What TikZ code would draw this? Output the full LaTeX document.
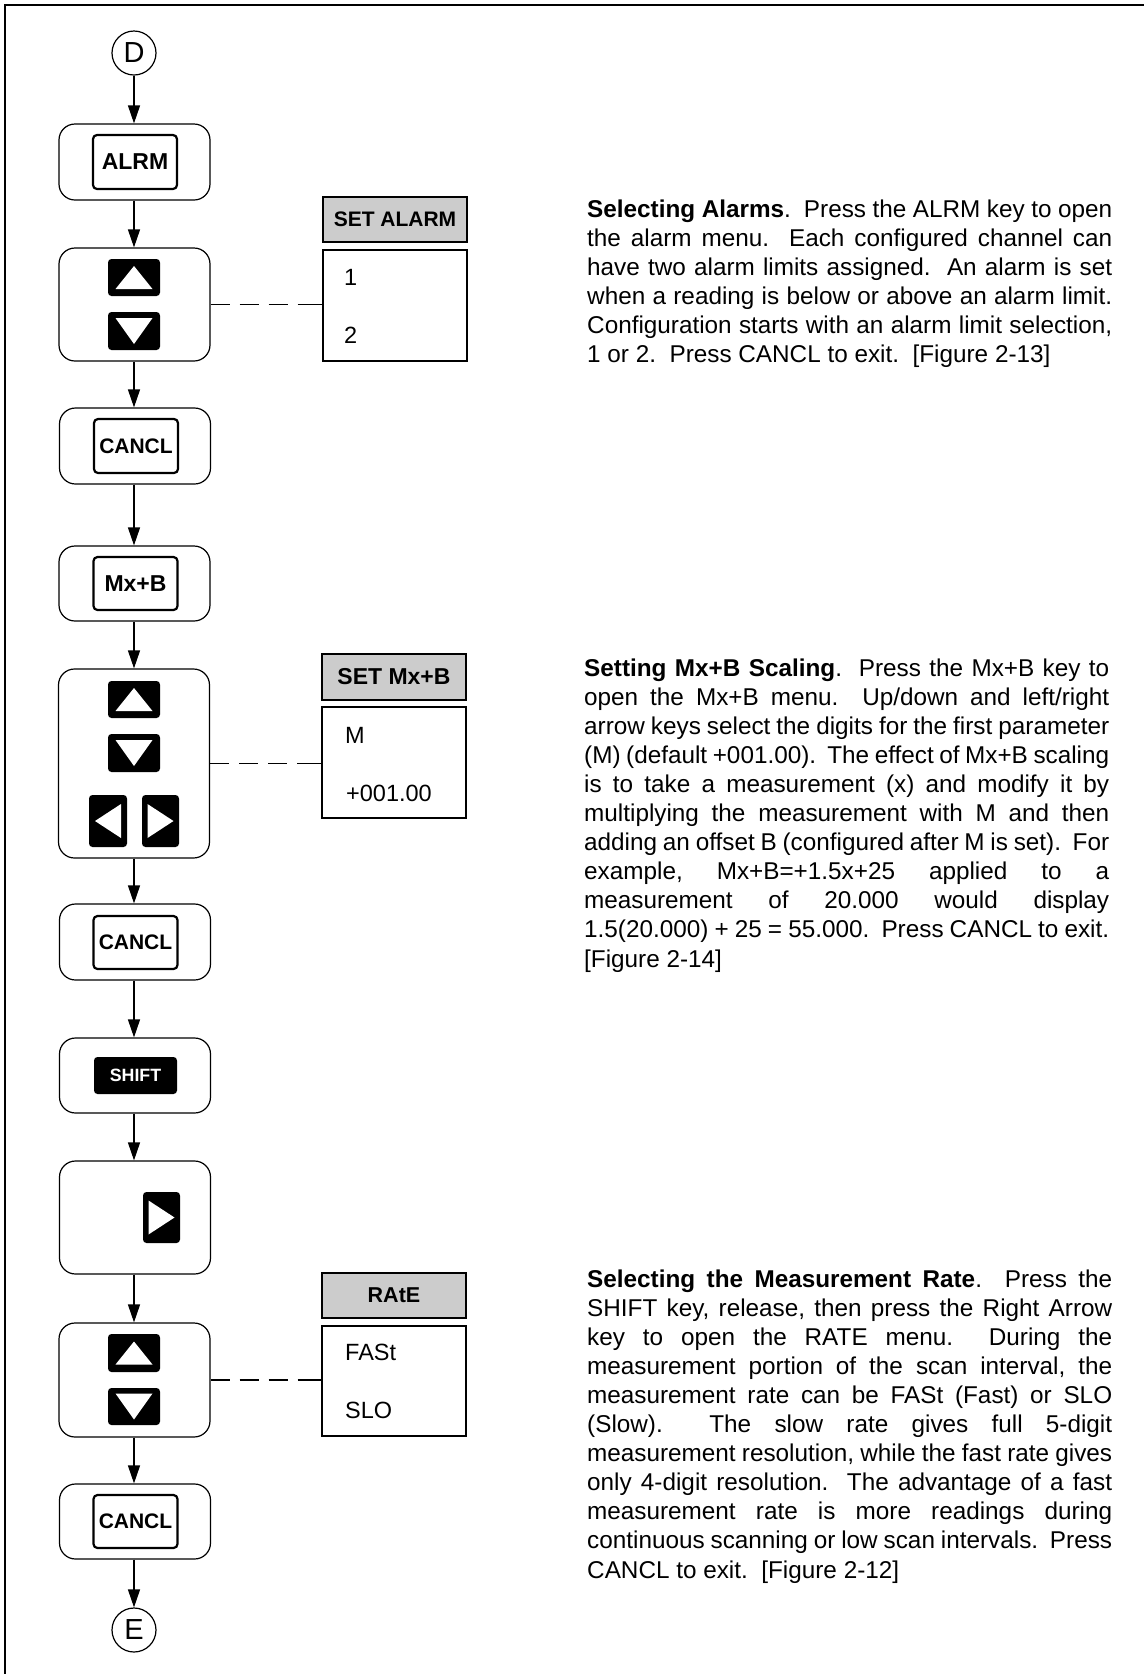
\documentclass[tikz,border=0pt]{standalone}
\usepackage{fontspec}
\setmainfont{Liberation Sans}
\usetikzlibrary{arrows.meta}
\definecolor{hdrgray}{gray}{0.8}
\newlength\pw
\setlength\pw{525pt}
\newcommand\pjust[1]{\hbox to \pw{#1}}
\newcommand\plast[1]{\hbox{#1}}
\newcommand\parfont{\fontsize{24.3}{29.1}\selectfont\frenchspacing\hbadness=10000\hfuzz=20pt\lineskiplimit=-100pt}
\newcommand\triup[1]{\fill[white] (#1.center) ++(0,-11.5) -- ++(18.5,23) -- ++(-37,0) -- cycle;}
\newcommand\tridown[1]{\fill[white] (#1.center) ++(0,13) -- ++(18.5,-26) -- ++(-37,0) -- cycle;}
\newcommand\trileft[1]{\fill[white] (#1.center) ++(-13,0) -- ++(26,-17) -- ++(0,34) -- cycle;}
\newcommand\triright[1]{\fill[white] (#1.center) ++(13,0) -- ++(-26,-17) -- ++(0,34) -- cycle;}
\tikzset{
  obox/.style={draw, line width=1.2pt, rounded corners=16pt, minimum width=151pt, inner sep=0pt},
  kbox/.style={draw, line width=2.2pt, rounded corners=4pt, minimum width=84pt, minimum height=54pt, inner sep=0pt, font=\bfseries\fontsize{22}{26}\selectfont},
  bkey/.style={fill=black, rounded corners=3.5pt, inner sep=0pt},
  conn/.style={line width=1.2pt, -{Triangle[length=18pt,width=12pt]}},
  dashl/.style={line width=1.2pt, dash pattern=on 19pt off 10pt on 19pt off 10pt on 19pt off 10pt on 40pt},
  circnode/.style={circle, draw, line width=1.2pt, minimum size=44pt, inner sep=0pt, font=\fontsize{29}{32}\selectfont},
  hdr/.style={draw, line width=1.2pt, fill=hdrgray, minimum width=144pt, minimum height=45pt, inner sep=0pt},
  menubox/.style={draw, line width=1.2pt, minimum width=144pt, inner sep=0pt},
  mitem/.style={anchor=west, inner sep=0pt, font=\fontsize{23.5}{28}\selectfont},
  para/.style={anchor=base west, inner sep=0pt},
}
\begin{document}
\begin{tikzpicture}[x=1pt,y=-1pt]
\useasboundingbox (0,0) rectangle (1144,1674);
% frame
\draw[line width=2pt] (5,1674) -- (5,5) -- (1144,5);

% ---- flow column ----
\node[circnode] (D) at (134,53) {D};

\node[obox, minimum height=76pt] (alrm) at (134.5,162) {};
\node[kbox, font=\bfseries\fontsize{23}{26}\selectfont] (alrmk) at (135,162) {ALRM};

\node[obox, minimum height=113pt] (ud1) at (134.5,304.5) {};
\node[bkey, minimum width=52pt, minimum height=37pt] (ud1u) at (134,277.5) {};
\node[bkey, minimum width=52pt, minimum height=38pt] (ud1d) at (134,331) {};
\triup{ud1u}
\tridown{ud1d}

\node[obox, minimum height=76pt] (can1) at (135,446) {};
\node[kbox, font=\bfseries\fontsize{21}{26}\selectfont] (can1k) at (136,446) {CANCL};

\node[obox, minimum height=75pt] (mxb) at (134.5,583.5) {};
\node[kbox, minimum height=53pt, font=\bfseries\fontsize{23}{26}\selectfont] (mxbk) at (135.5,583.5) {Mx+B};

\node[obox, minimum height=189pt] (ud2) at (134,763.5) {};
\node[bkey, minimum width=52pt, minimum height=37pt] (ud2u) at (134,699.5) {};
\node[bkey, minimum width=52pt, minimum height=38pt] (ud2d) at (134,753) {};
\node[bkey, minimum width=38pt, minimum height=52pt] (ud2l) at (108,821) {};
\node[bkey, minimum width=37pt, minimum height=52pt] (ud2r) at (160.5,821) {};
\triup{ud2u}
\tridown{ud2d}
\trileft{ud2l}
\triright{ud2r}

\node[obox, minimum height=76pt] (can2) at (135,942) {};
\node[kbox, minimum height=53pt, font=\bfseries\fontsize{21}{26}\selectfont] (can2k) at (135.5,942.5) {CANCL};

\node[obox, minimum height=75pt] (shf) at (135,1075.5) {};
\node[bkey, minimum width=83pt, minimum height=37pt, text=white, font=\bfseries\fontsize{17.8}{20}\selectfont] (shfk) at (135.5,1075.5) {SHIFT};

\node[obox, minimum height=113pt] (rgt) at (135,1217.5) {};
\node[bkey, minimum width=37pt, minimum height=51pt] (rgtk) at (161.5,1217.5) {};
\triright{rgtk}

\node[obox, minimum height=114pt] (ud3) at (134.5,1380) {};
\node[bkey, minimum width=52pt, minimum height=38pt] (ud3u) at (134,1353) {};
\node[bkey, minimum width=52pt, minimum height=37pt] (ud3d) at (134,1406.5) {};
\triup{ud3u}
\tridown{ud3d}

\node[obox, minimum height=75pt] (can3) at (135,1521.5) {};
\node[kbox, minimum height=53pt, font=\bfseries\fontsize{21}{26}\selectfont] (can3k) at (135.5,1521.5) {CANCL};

\node[circnode] (E) at (134,1630) {E};

% connectors
\draw[conn] (D) -- (D |- alrm.north);
\draw[conn] (D |- alrm.south) -- (D |- ud1.north);
\draw[conn] (D |- ud1.south) -- (D |- can1.north);
\draw[conn] (D |- can1.south) -- (D |- mxb.north);
\draw[conn] (D |- mxb.south) -- (D |- ud2.north);
\draw[conn] (D |- ud2.south) -- (D |- can2.north);
\draw[conn] (D |- can2.south) -- (D |- shf.north);
\draw[conn] (D |- shf.south) -- (D |- rgt.north);
\draw[conn] (D |- rgt.south) -- (D |- ud3.north);
\draw[conn] (D |- ud3.south) -- (D |- can3.north);
\draw[conn] (D |- can3.south) -- (E);

% ---- menus ----
\node[hdr, font=\bfseries\fontsize{21}{26}\selectfont] (h1) at (395,219.5) {SET ALARM};
\node[menubox, minimum height=111pt] (m1) at (395,305.5) {};
\node[mitem] (m1a) at (344,277) {1};
\node[mitem] (m1b) at (344,335) {2};
\draw[dashl] (ud1.east) -- (ud1.east -| m1.west);

\node[hdr, minimum height=46pt, font=\bfseries\fontsize{23}{26}\selectfont] (h2) at (394,677) {SET Mx+B};
\node[menubox, minimum height=111pt] (m2) at (394,762.5) {};
\node[mitem] (m2a) at (345,735) {M};
\node[mitem] (m2b) at (346,793) {+001.00};
\draw[dashl] (ud2.east) -- (ud2.east -| m2.west);

\node[hdr, font=\bfseries\fontsize{21.5}{26}\selectfont] (h3) at (394,1295.5) {RAtE};
\node[menubox, minimum height=110pt] (m3) at (394,1381) {};
\node[mitem] (m3a) at (345,1352) {FASt};
\node[mitem] (m3b) at (345,1410) {SLO};
\draw[dashl] (ud3.east) -- (ud3.east -| m3.west);

% ---- paragraphs ----
\node[para] (p1) at (587,217) {\vtop{\parfont
\pjust{\textbf{Selecting Alarms}.~ Press the ALRM key to open}
\pjust{the alarm menu.~ Each configured channel can}
\pjust{have two alarm limits assigned.~ An alarm is set}
\pjust{when a reading is below or above an alarm limit.}
\pjust{Configuration starts with an alarm limit selection,}
\plast{1 or 2.~ Press CANCL to exit.~ [Figure 2-13]}}};

\node[para] (p2) at (584,676) {\vtop{\parfont
\pjust{\textbf{Setting Mx+B Scaling}.~ Press the Mx+B key to}
\pjust{open the Mx+B menu.~ Up/down and left/right}
\pjust{arrow keys select the digits for the first parameter}
\pjust{(M) (default +001.00).~ The effect of Mx+B scaling}
\pjust{is to take a measurement (x) and modify it by}
\pjust{multiplying the measurement with M and then}
\pjust{adding an offset B (configured after M is set).~ For}
\pjust{example, Mx+B=+1.5x+25 applied to a}
\pjust{measurement of 20.000 would display}
\pjust{1.5(20.000) + 25 = 55.000.~ Press CANCL to exit.}
\plast{[Figure 2-14]}}};

\node[para] (p3) at (587,1287) {\vtop{\parfont
\pjust{\textbf{Selecting the Measurement Rate}.~ Press the}
\pjust{SHIFT key, release, then press the Right Arrow}
\pjust{key to open the RATE menu.~ During the}
\pjust{measurement portion of the scan interval, the}
\pjust{measurement rate can be FASt (Fast) or SLO}
\pjust{(Slow).~ The slow rate gives full 5-digit}
\pjust{measurement resolution, while the fast rate gives}
\pjust{only 4-digit resolution.~ The advantage of a fast}
\pjust{measurement rate is more readings during}
\pjust{continuous scanning or low scan intervals.~ Press}
\plast{CANCL to exit.~ [Figure 2-12]}}};
\end{tikzpicture}
\end{document}
